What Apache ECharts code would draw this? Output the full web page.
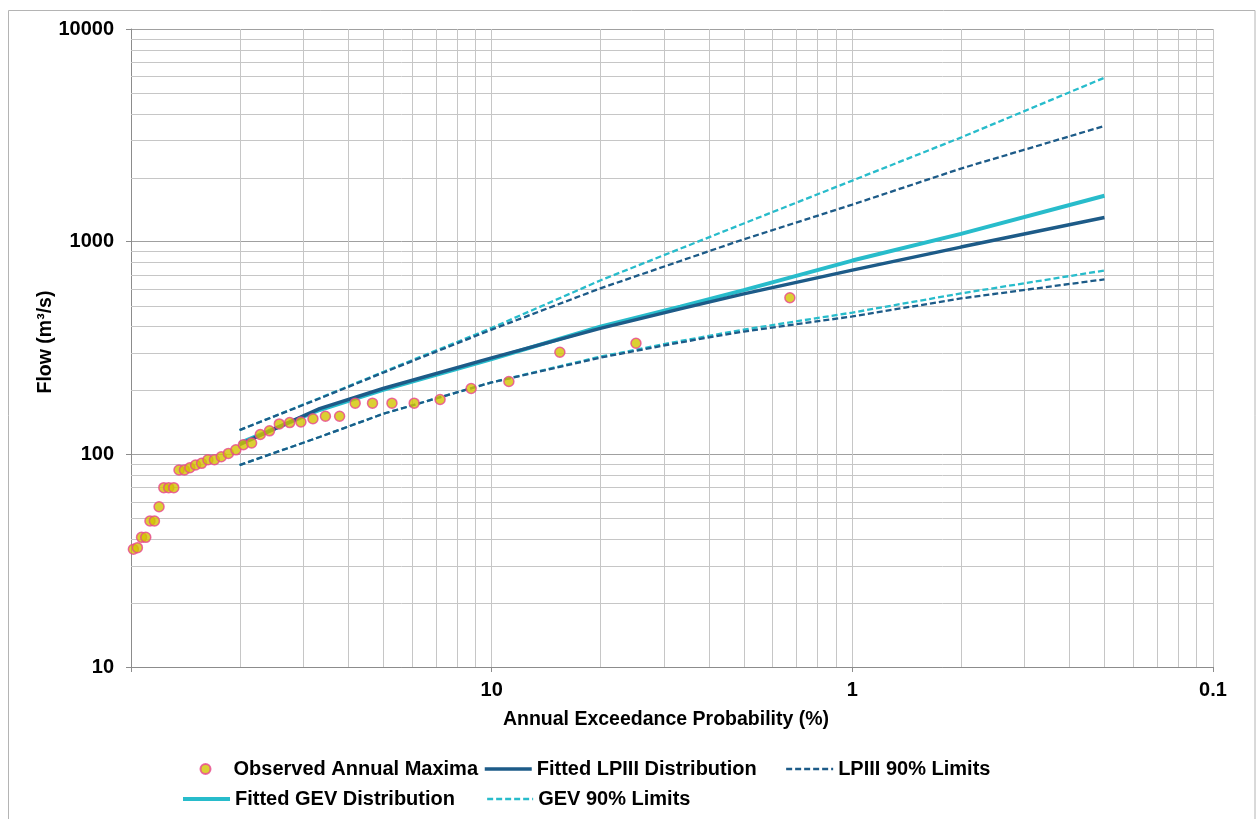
<!DOCTYPE html>
<html>
<head>
<meta charset="utf-8">
<script src="https://cdn.jsdelivr.net/npm/echarts@6/dist/echarts.min.js"></script>
<style>
html,body{margin:0;padding:0;background:#fff;}
#chart{width:1256px;height:819px;}
</style>
</head>
<body>
<div id="chart"></div>
<script>
// ---- Data ----
const obsAEP = [98.5, 96.0, 93.5, 91.0, 88.6, 86.1, 83.6, 81.1, 78.6, 76.1,
                73.6, 71.1, 68.7, 66.2, 63.7, 61.2, 58.7, 56.2, 53.7, 51.2,
                48.8, 46.3, 43.8, 41.3, 38.8, 36.3, 33.8, 31.3, 28.9, 26.4,
                23.9, 21.4, 18.9, 16.4, 13.9, 11.4, 8.96, 6.47, 3.98, 1.49];
const obsFlow = [35.8, 36.4, 40.7, 40.7, 48.6, 48.6, 56.7, 69.7, 69.7, 69.7,
                 84.4, 84.4, 86.5, 89.1, 90.7, 94.3, 94.3, 97.4, 101, 105,
                 111, 113, 124, 129, 139, 141, 142, 147, 151, 151,
                 174, 174, 174, 174, 181, 204, 220, 302, 333, 545];

const fitAEP   = [50, 30, 20, 10, 5, 3, 2, 1, 0.5, 0.2];
const lp3Fit   = [111, 164, 204, 284, 391, 483, 568, 735, 943, 1300];
const lp3Upper = [130, 183, 242, 386, 603, 811, 1026, 1494, 2207, 3500];
const lp3Lower = [89, 120.6, 155, 218, 285, 336, 378, 445, 541, 665];
const gevFit   = [113, 161.6, 201, 280.5, 398, 495, 592, 815, 1088, 1644];
const gevUpper = [130, 184, 244, 393, 657, 927, 1218, 1938, 3087, 5900];
const gevLower = [89, 120.6, 155, 218, 288, 341, 386, 464, 571, 732];

const xTickValues = [100, 10, 1, 0.1];
const xTickLabels = ['', '10', '1', '0.1'];
const yTickValues = [10, 100, 1000, 10000];
const yTickLabels = ['10', '100', '1000', '10000'];

const xMinorGrid = [50, 33.333, 25, 20, 16.667, 14.286, 12.5, 11.111,
                    5, 3.3333, 2.5, 2, 1.6667, 1.4286, 1.25, 1.1111,
                    0.5, 0.33333, 0.25, 0.2, 0.16667, 0.14286, 0.125, 0.11111];
const yMinorGrid = [20, 30, 40, 50, 60, 70, 80, 90,
                    200, 300, 400, 500, 600, 700, 800, 900,
                    2000, 3000, 4000, 5000, 6000, 7000, 8000, 9000];

// ---- Styles ----
const FONT = '"Liberation Sans", Arial, Helvetica, sans-serif';
const DARK = '#1d5b88';
const CYAN = '#28bccb';
const GRID_MINOR = '#c6c6c6';
const GRID_MAJOR = '#a0a0a0';
const AXIS = '#8c8c8c';
const FIT_W = 3.5, GEV_W = 4, LIM_W = 2.3, DASH = [6, 3];

function zip(xs, ys) { return xs.map((x, i) => [x, ys[i]]); }
function pickLabel(v, vals, labels) {
  for (let i = 0; i < vals.length; i++) {
    if (Math.abs(Math.log10(v) - Math.log10(vals[i])) < 1e-6) return labels[i];
  }
  return '';
}

const chart = echarts.init(document.getElementById('chart'), null, {renderer: 'canvas'});
const labelStyle = {fontSize: 20, fontWeight: 'bold', fontFamily: FONT, color: '#000'};
const legendText = {fontSize: 20, fontWeight: 'bold', fontFamily: FONT, color: '#000'};
const noSymbol = {opacity: 0};

function gridLineRender(vertical) {
  return function (params, api) {
    const cs = params.coordSys;
    const p = api.coord([api.value(0), api.value(1)]);
    let shape;
    if (vertical) {
      const x = Math.round(p[0]) + 0.5;
      shape = {x1: x, y1: cs.y, x2: x, y2: cs.y + cs.height};
    } else {
      const y = Math.round(p[1]) + 0.5;
      shape = {x1: cs.x, y1: y, x2: cs.x + cs.width, y2: y};
    }
    return {type: 'line', shape: shape, style: {stroke: GRID_MINOR, lineWidth: 1}, silent: true};
  };
}

const option = {
  animation: false,
  backgroundColor: '#ffffff',
  grid: {left: 131, right: 43, top: 29, bottom: 152, containLabel: false},
  xAxis: {
    type: 'log', logBase: 10, min: 0.1, max: 100, inverse: true,
    axisLine: {show: true, onZero: false, lineStyle: {color: AXIS, width: 1}},
    axisTick: {show: true, inside: false, length: 5, lineStyle: {color: AXIS, width: 1}},
    axisLabel: Object.assign({margin: 13, showMinLabel: true, showMaxLabel: true,
      formatter: v => pickLabel(v, xTickValues, xTickLabels)}, labelStyle),
    splitLine: {show: true, lineStyle: {color: GRID_MINOR, width: 1}},
    minorTick: {show: false}, minorSplitLine: {show: false}
  },
  yAxis: {
    type: 'log', logBase: 10, min: 10, max: 10000,
    axisLine: {show: true, onZero: false, lineStyle: {color: AXIS, width: 1}},
    axisTick: {show: true, inside: false, length: 5, lineStyle: {color: AXIS, width: 1}},
    axisLabel: Object.assign({margin: 17, showMinLabel: true, showMaxLabel: true,
      formatter: v => pickLabel(v, yTickValues, yTickLabels)}, labelStyle),
    splitLine: {show: true, lineStyle: {color: GRID_MAJOR, width: 1}},
    minorTick: {show: false}, minorSplitLine: {show: false}
  },
  legend: [
    {data: ['Observed Annual Maxima'], left: 199.5, top: 759, padding: 0, itemWidth: 46, itemHeight: 10, textStyle: legendText, selectedMode: false},
    {data: ['Fitted LPIII Distribution'], left: 483, top: 759, padding: 0, itemWidth: 47, itemHeight: 14, itemStyle: noSymbol,
     lineStyle: {width: FIT_W}, textStyle: legendText, selectedMode: false},
    {data: ['LPIII 90% Limits'], left: 785, top: 759, padding: 0, itemWidth: 47, itemHeight: 14, itemStyle: noSymbol,
     lineStyle: {width: LIM_W}, textStyle: legendText, selectedMode: false},
    {data: ['Fitted GEV Distribution'], left: 181, top: 789, padding: 0, itemWidth: 47, itemHeight: 14, itemStyle: noSymbol,
     lineStyle: {width: GEV_W}, textStyle: legendText, selectedMode: false},
    {data: ['GEV 90% Limits'], left: 486, top: 789, padding: 0, itemWidth: 46, itemHeight: 14, itemStyle: noSymbol,
     lineStyle: {width: LIM_W}, textStyle: legendText, selectedMode: false}
  ],
  graphic: [
    {type: 'rect', silent: true, z: -10,
     shape: {x: 8.5, y: 10.5, width: 1246.5, height: 830},
     style: {fill: 'none', stroke: '#b4b4b4', lineWidth: 1}},
    {type: 'text', silent: true, x: 666, y: 720,
     style: {text: 'Annual Exceedance Probability (%)', font: 'bold 19.5px ' + FONT, fill: '#000',
             align: 'center', verticalAlign: 'middle', textAlign: 'center', textVerticalAlign: 'middle'}},
    {type: 'text', silent: true, x: 45.5, y: 342, rotation: Math.PI / 2,
     style: {text: 'Flow (m³/s)', font: 'bold 19.5px ' + FONT, fill: '#000',
             align: 'center', verticalAlign: 'middle', textAlign: 'center', textVerticalAlign: 'middle'}}
  ],
  series: [
    {name: 'vgrid', type: 'custom', silent: true, z: 1, clip: false,
     data: xMinorGrid.map(v => [v, 100]), renderItem: gridLineRender(true)},
    {name: 'hgrid', type: 'custom', silent: true, z: 1, clip: false,
     data: yMinorGrid.map(v => [1, v]), renderItem: gridLineRender(false)},
    {name: 'Observed Annual Maxima', type: 'scatter', z: 10,
     data: zip(obsAEP, obsFlow), symbol: 'circle', symbolSize: 10,
     itemStyle: {color: '#d2c400', borderColor: '#e8468f', borderWidth: 1.5}},
    {name: 'Fitted LPIII Distribution', type: 'line', z: 6, symbol: 'none',
     data: zip(fitAEP, lp3Fit), lineStyle: {color: DARK, width: FIT_W}, itemStyle: {color: DARK}},
    {name: 'LPIII 90% Limits', type: 'line', z: 4, symbol: 'none',
     data: zip(fitAEP, lp3Upper), lineStyle: {color: DARK, width: LIM_W, type: DASH}, itemStyle: {color: DARK}},
    {name: 'LPIII 90% Limits', type: 'line', z: 4, symbol: 'none',
     data: zip(fitAEP, lp3Lower), lineStyle: {color: DARK, width: LIM_W, type: DASH}, itemStyle: {color: DARK}},
    {name: 'Fitted GEV Distribution', type: 'line', z: 5, symbol: 'none',
     data: zip(fitAEP, gevFit), lineStyle: {color: CYAN, width: GEV_W}, itemStyle: {color: CYAN}},
    {name: 'GEV 90% Limits', type: 'line', z: 3, symbol: 'none',
     data: zip(fitAEP, gevUpper), lineStyle: {color: CYAN, width: LIM_W, type: DASH}, itemStyle: {color: CYAN}},
    {name: 'GEV 90% Limits', type: 'line', z: 3, symbol: 'none',
     data: zip(fitAEP, gevLower), lineStyle: {color: CYAN, width: LIM_W, type: DASH}, itemStyle: {color: CYAN}}
  ]
};
chart.setOption(option);
</script>
</body>
</html>
